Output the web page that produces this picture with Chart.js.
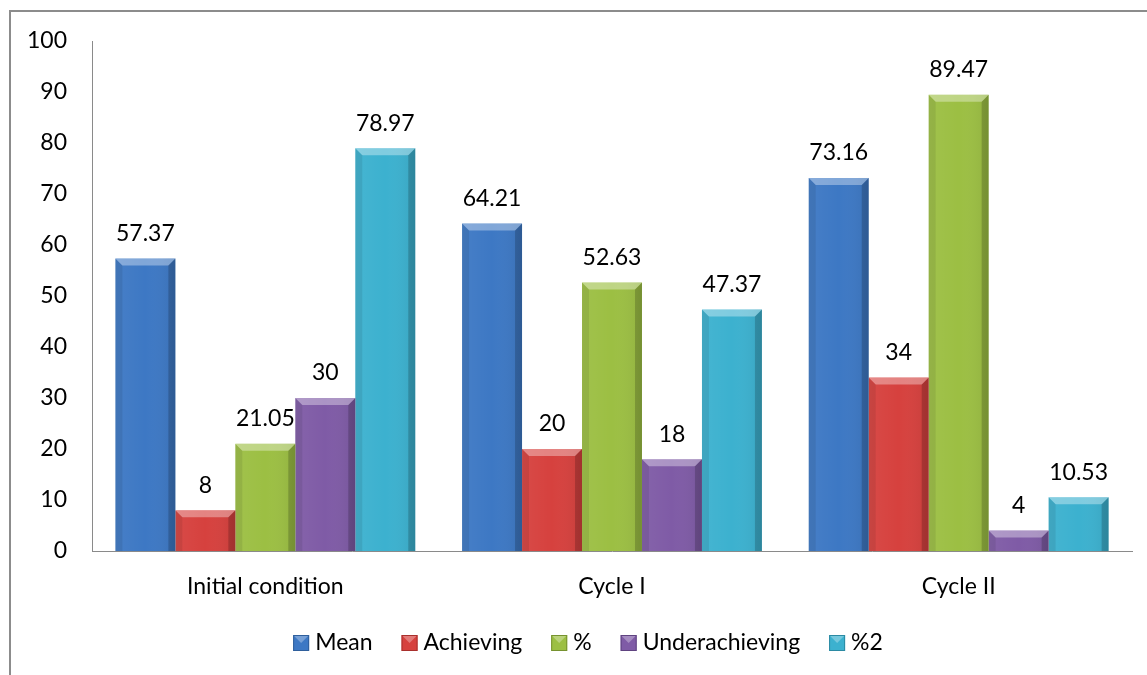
<!DOCTYPE html>
<html>
<head>
<meta charset="utf-8">
<script src="https://cdn.jsdelivr.net/npm/chart.js@4.4.1/dist/chart.umd.min.js"></script>
<style>
  html, body { margin: 0; padding: 0; background: #fff; }
  #wrap { position: relative; width: 1147px; height: 675px; overflow: hidden; }
  #frame { position: absolute; left: 9px; top: 10px; width: 1200px; height: 720px; border: 2px solid #8c8c8c; }
  #chart { position: absolute; left: 0; top: 0; }
</style>
</head>
<body>
<div id="wrap">
  <div id="frame"></div>
  <canvas id="chart" width="1147" height="675"></canvas>
</div>
<script>
// DATA
const categories = ['Initial condition', 'Cycle I', 'Cycle II'];
const seriesNames = ['Mean', 'Achieving', '%', 'Underachieving', '%2'];
const meanValues = [57.37, 64.21, 73.16];
const achievingValues = [8, 20, 34];
const pctValues = [21.05, 52.63, 89.47];
const underValues = [30, 18, 4];
const pct2Values = [78.97, 47.37, 10.53];
const yMin = 0, yMax = 100, yStep = 10;

const seriesColors = ['#3d78c4', '#d6413e', '#9cbf43', '#7f5ba6', '#3cb1cf'];
const seriesBorders = ['#2f5f9c', '#a8302d', '#76922f', '#5f4380', '#2b8aa3'];

const FONT = 'Lato, Calibri, "Open Sans", sans-serif';
const FONT_SIZE = 23;

// bevel look, drawn on top of each bar the library placed
const bevelPlugin = {
    id: 'bevel',
    afterDatasetsDraw(chart) {
        const ctx = chart.ctx;
        chart.data.datasets.forEach((ds, i) => {
            const meta = chart.getDatasetMeta(i);
            meta.data.forEach(el => {
                const l = el.x - el.width / 2, r = el.x + el.width / 2;
                const t = el.y, b = el.base;
                const d = Math.min(7, (b - t) / 2, el.width / 2);
                ctx.save();
                const g = ctx.createLinearGradient(l, 0, r, 0);
                g.addColorStop(0, 'rgba(255,255,255,0.05)');
                g.addColorStop(0.5, 'rgba(255,255,255,0)');
                g.addColorStop(1, 'rgba(0,0,0,0.08)');
                ctx.fillStyle = g;
                ctx.fillRect(l, t, r - l, b - t);
                // left side
                ctx.fillStyle = 'rgba(0,0,0,0.08)';
                ctx.beginPath();
                ctx.moveTo(l, t); ctx.lineTo(l + d, t + d); ctx.lineTo(l + d, b); ctx.lineTo(l, b);
                ctx.fill();
                // right side
                ctx.fillStyle = 'rgba(0,0,0,0.18)';
                ctx.beginPath();
                ctx.moveTo(r, t); ctx.lineTo(r - d, t + d); ctx.lineTo(r - d, b); ctx.lineTo(r, b);
                ctx.fill();
                // top
                ctx.fillStyle = 'rgba(255,255,255,0.35)';
                ctx.beginPath();
                ctx.moveTo(l, t); ctx.lineTo(r, t); ctx.lineTo(r - d, t + d); ctx.lineTo(l + d, t + d);
                ctx.fill();
                ctx.restore();
            });
        });
    }
};

// VALUE LABELS ABOVE BARS
const valueLabels = {
    id: 'valueLabels',
    afterDraw(chart) {
        const ctx = chart.ctx;
        ctx.save();
        ctx.font = FONT_SIZE + 'px ' + FONT;
        ctx.fillStyle = '#000';
        ctx.textAlign = 'center';
        ctx.textBaseline = 'middle';
        chart.data.datasets.forEach((ds, i) => {
            chart.getDatasetMeta(i).data.forEach((el, j) => {
                ctx.fillText(String(ds.data[j]), el.x, el.y - 25);
            });
        });
        ctx.restore();
    }
};

// LEGEND - drawn by hand so spacing follows the original
const bottomLegend = {
    id: 'bottomLegend',
    afterDraw(chart) {
        const ctx = chart.ctx;
        const box = 16, gap = 6, spacing = 29;
        const centerX = 588, centerY = 643;
        ctx.save();
        ctx.font = FONT_SIZE + 'px ' + FONT;
        const widths = chart.data.datasets.map(ds => ctx.measureText(ds.label).width);
        const total = widths.reduce((a, w) => a + box + gap + w, 0) + spacing * (widths.length - 1);
        let x = centerX - total / 2;
        chart.data.datasets.forEach((ds, i) => {
            const y = centerY - box / 2;
            ctx.fillStyle = seriesColors[i];
            ctx.fillRect(x, y, box, box);
            ctx.fillStyle = 'rgba(255,255,255,0.3)';
            ctx.beginPath();
            ctx.moveTo(x, y); ctx.lineTo(x + box, y); ctx.lineTo(x + box / 2, y + box / 2);
            ctx.fill();
            ctx.strokeStyle = seriesBorders[i];
            ctx.lineWidth = 1;
            ctx.strokeRect(x + 0.5, y + 0.5, box - 1, box - 1);
            ctx.fillStyle = '#000';
            ctx.textAlign = 'left';
            ctx.textBaseline = 'middle';
            ctx.fillText(ds.label, x + box + gap, centerY);
            x += box + gap + widths[i] + spacing;
        });
        ctx.restore();
    }
};

const allValues = [meanValues, achievingValues, pctValues, underValues, pct2Values];

new Chart(document.getElementById('chart'), {
    type: 'bar',
    data: {
        labels: categories,
        datasets: seriesNames.map((name, i) => ({
            label: name,
            data: allValues[i],
            backgroundColor: seriesColors[i],
            borderWidth: 0,
            barPercentage: 1,
            categoryPercentage: 0.865
        }))
    },
    options: {
        responsive: false,
        animation: false,
        layout: { padding: { top: 41, right: 15, left: 0, bottom: 62 } },
        plugins: {
            tooltip: { enabled: false },
            legend: { display: false }
        },
        scales: {
            x: {
                grid: { display: false, drawTicks: false },
                border: { display: true, color: '#8a8a8a', width: 1 },
                ticks: { font: { family: FONT, size: FONT_SIZE }, color: '#000', padding: 22 },
                afterFit(scale) { scale.height = 62; }
            },
            y: {
                min: yMin,
                max: yMax,
                grid: { display: false, drawTicks: false },
                border: { display: true, color: '#8a8a8a', width: 1 },
                ticks: { stepSize: yStep, font: { family: FONT, size: FONT_SIZE }, color: '#000', padding: 25 },
                afterFit(scale) { scale.width = 92; }
            }
        }
    },
    plugins: [bevelPlugin, valueLabels, bottomLegend]
});
</script>
</body>
</html>
